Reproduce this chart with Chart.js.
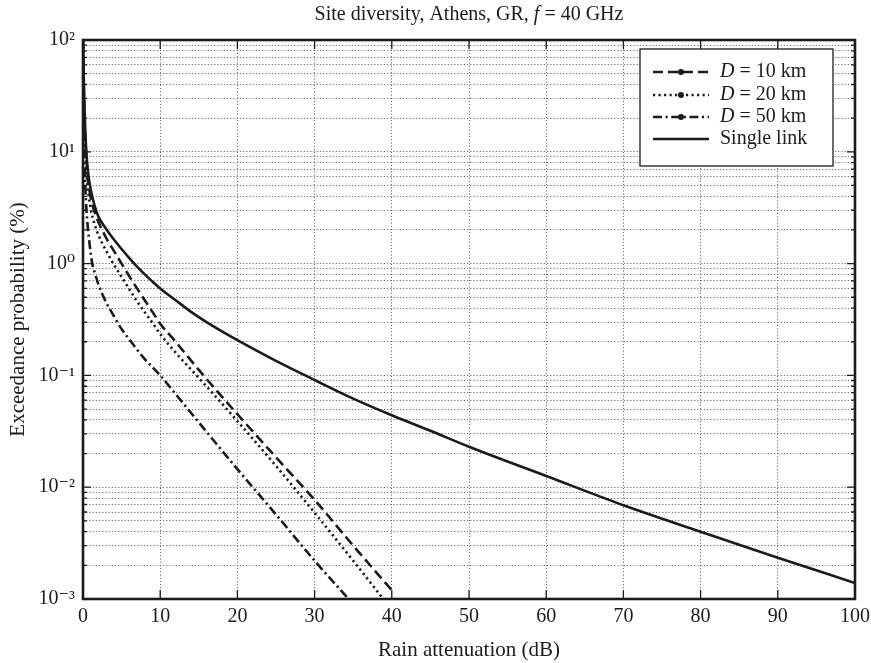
<!DOCTYPE html>
<html>
<head>
<meta charset="utf-8">
<script src="https://cdn.jsdelivr.net/npm/chart.js@4.4.1/dist/chart.umd.min.js"></script>
<style>
  html, body { margin: 0; padding: 0; background: #fff; }
  #wrap { width: 871px; height: 663px; position: relative; }
</style>
</head>
<body>
<div id="wrap"><canvas id="c"></canvas></div>
<script>
// data (x in dB, y in %)
const SINGLE_X = [0, 0.1, 0.2, 0.3, 0.5, 0.75, 1, 1.5, 2, 3, 4, 5, 6, 7, 8, 9, 10, 12, 14, 16, 18, 20, 25, 30, 35, 40, 45, 50, 60, 70, 80, 90, 100];
const SINGLE_Y = [100, 45, 24, 15, 8.5, 5.8, 4.6, 3.3, 2.63, 2.04, 1.64, 1.35, 1.12, 0.94, 0.80, 0.69, 0.60, 0.47, 0.37, 0.30, 0.248, 0.207, 0.135, 0.091, 0.062, 0.044, 0.032, 0.023, 0.0126, 0.0069, 0.0040, 0.00234, 0.00139];

const D10_X = [0, 0.1, 0.2, 0.3, 0.5, 0.75, 1, 1.5, 2, 3, 4, 5, 6, 7, 8, 9, 10, 12, 15, 20, 25, 30, 35, 40];
const D10_Y = [100, 38, 20, 13, 7.5, 5.0, 3.9, 2.9, 2.35, 1.7, 1.3, 1.0, 0.77, 0.6, 0.47, 0.37, 0.29, 0.2, 0.112, 0.045, 0.0185, 0.0077, 0.003, 0.0012];

const D20_X = [0, 0.1, 0.2, 0.3, 0.5, 0.75, 1, 1.5, 2, 3, 4, 5, 6, 7, 8, 9, 10, 12, 15, 20, 25, 30, 35, 38.9];
const D20_Y = [100, 33, 16, 10.5, 6.0, 4.0, 3.1, 2.25, 1.8, 1.3, 0.98, 0.76, 0.59, 0.46, 0.367, 0.295, 0.235, 0.16, 0.095, 0.039, 0.0155, 0.0059, 0.0022, 0.001];

const D50_X = [0, 0.1, 0.2, 0.3, 0.45, 0.6, 0.9, 1.2, 1.6, 2, 3, 4, 5, 6, 7, 8, 10, 12, 15, 20, 25, 30, 34.4];
const D50_Y = [100, 25, 9, 5, 3.0, 2.2, 1.4, 1.0, 0.8, 0.65, 0.45, 0.34, 0.26, 0.21, 0.17, 0.14, 0.1, 0.068, 0.038, 0.0145, 0.0057, 0.0022, 0.001];

const X_TICKS = [0, 10, 20, 30, 40, 50, 60, 70, 80, 90, 100];
const Y_DECADES = [-3, -2, -1, 0, 1, 2];
const Y_LABELS = ['10\u207B\u00B3', '10\u207B\u00B2', '10\u207B\u00B9', '10\u2070', '10\u00B9', '10\u00B2'];

const SERIES_NAMES = ['10', '20', '50', 'Single link'];

const INK = '#1b1b1b';
const SERIF = '"Liberation Serif", "DejaVu Serif", serif';

function pts(xs, ys) {
  return xs.map((x, i) => ({ x: x, y: ys[i] }));
}

// log ticks 1..9 x 10^k
const yTickValues = [];
Y_DECADES.forEach((e, k) => {
  const top = k === Y_DECADES.length - 1 ? 1 : 9;
  for (let m = 1; m <= top; m++) yTickValues.push(+(m * Math.pow(10, e)).toPrecision(3));
});

function yLabel(v) {
  const e = Math.round(Math.log10(v));
  if (Math.abs(v - Math.pow(10, e)) > 1e-9 * Math.pow(10, e)) return '';
  return Y_LABELS[Y_DECADES.indexOf(e)];
}

const baseLine = {
  borderColor: INK,
  backgroundColor: INK,
  borderWidth: 2.6,
  pointRadius: 0,
  fill: false,
  cubicInterpolationMode: 'monotone'
};

const datasets = [
  Object.assign({}, baseLine, { label: SERIES_NAMES[0], data: pts(D10_X, D10_Y), borderDash: [10, 5] }),
  Object.assign({}, baseLine, { label: SERIES_NAMES[1], data: pts(D20_X, D20_Y), borderDash: [2.2, 3.3] }),
  Object.assign({}, baseLine, { label: SERIES_NAMES[2], data: pts(D50_X, D50_Y), borderDash: [9, 3.5, 2.2, 3.5] }),
  Object.assign({}, baseLine, { label: SERIES_NAMES[3], data: pts(SINGLE_X, SINGLE_Y), borderDash: [] })
];

// frame, inner ticks, title, legend
const decorPlugin = {
  id: 'decor',
  afterDatasetsDraw(chart) {
    const ctx = chart.ctx;
    const a = chart.chartArea;
    const xs = chart.scales.x;
    const ys = chart.scales.y;
    ctx.save();
    ctx.strokeStyle = INK;

    // inner ticks
    ctx.lineWidth = 1.3;
    yTickValues.forEach(v => {
      const py = ys.getPixelForValue(v);
      const len = yLabel(v) ? 8 : 4;
      ctx.beginPath();
      ctx.moveTo(a.left, py); ctx.lineTo(a.left + len, py);
      ctx.moveTo(a.right, py); ctx.lineTo(a.right - len, py);
      ctx.stroke();
    });
    X_TICKS.forEach(v => {
      const px = xs.getPixelForValue(v);
      ctx.beginPath();
      ctx.moveTo(px, a.bottom); ctx.lineTo(px, a.bottom - 9);
      ctx.moveTo(px, a.top); ctx.lineTo(px, a.top + 9);
      ctx.stroke();
    });

    // frame
    ctx.lineWidth = 2.6;
    ctx.strokeRect(a.left, a.top, a.right - a.left, a.bottom - a.top);

    // title
    ctx.fillStyle = INK;
    ctx.textBaseline = 'alphabetic';
    const parts = [
      ['Site diversity, Athens, GR, ', ''],
      ['f', 'italic '],
      [' = 40 GHz', '']
    ];
    const tsize = 20;
    let tw = 0;
    parts.forEach(p => { ctx.font = p[1] + tsize + 'px ' + SERIF; tw += ctx.measureText(p[0]).width; });
    let tx = (a.left + a.right) / 2 - tw / 2;
    ctx.textAlign = 'left';
    parts.forEach(p => {
      ctx.font = p[1] + tsize + 'px ' + SERIF;
      ctx.fillText(p[0], tx, 20);
      tx += ctx.measureText(p[0]).width;
    });

    // legend box
    const bx = 640, by = 49, bw = 193, bh = 117;
    ctx.fillStyle = '#fff';
    ctx.fillRect(bx, by, bw, bh);
    ctx.lineWidth = 1.3;
    ctx.strokeRect(bx, by, bw, bh);
    const rowY = [72, 95, 117, 139];
    const lsize = 20;
    chart.data.datasets.forEach((ds, i) => {
      const y = rowY[i];
      ctx.strokeStyle = INK;
      ctx.lineWidth = 2.6;
      ctx.setLineDash(ds.borderDash || []);
      ctx.beginPath();
      ctx.moveTo(653, y); ctx.lineTo(709, y);
      ctx.stroke();
      ctx.setLineDash([]);
      if (i < 3) {
        ctx.fillStyle = INK;
        ctx.beginPath();
        ctx.arc(681, y, 3, 0, Math.PI * 2);
        ctx.fill();
      }
      ctx.fillStyle = INK;
      ctx.textBaseline = 'middle';
      let x = 720;
      if (i < 3) {
        ctx.font = 'italic ' + lsize + 'px ' + SERIF;
        ctx.fillText('D', x, y);
        x += ctx.measureText('D').width;
        ctx.font = lsize + 'px ' + SERIF;
        ctx.fillText(' = ' + ds.label + ' km', x, y);
      } else {
        ctx.font = lsize + 'px ' + SERIF;
        ctx.fillText(ds.label, x, y);
      }
    });
    ctx.restore();
  }
};

new Chart(document.getElementById('c'), {
  type: 'line',
  data: { datasets: datasets },
  plugins: [decorPlugin],
  options: {
    responsive: true,
    maintainAspectRatio: false,
    animation: false,
    layout: { padding: { left: 0, right: 16, top: 40, bottom: 0 } },
    plugins: {
      legend: { display: false },
      title: { display: false },
      tooltip: { enabled: false }
    },
    scales: {
      x: {
        type: 'linear',
        min: 0,
        max: 100,
        afterBuildTicks(s) { s.ticks = X_TICKS.map(v => ({ value: v })); },
        afterFit(s) { s.height = 64; s.paddingLeft = 0; s.paddingRight = 0; },
        grid: {
          color: '#6e6e6e',
          lineWidth: 1,
          drawTicks: false
        },
        border: { display: false, dash: [1.2, 2] },
        ticks: {
          color: INK,
          padding: 6,
          font: { family: SERIF, size: 20 },
          maxRotation: 0,
          autoSkip: false
        },
        title: {
          display: true,
          text: 'Rain attenuation (dB)',
          color: INK,
          font: { family: SERIF, size: 21 },
          padding: { top: 2, bottom: 0 }
        }
      },
      y: {
        type: 'logarithmic',
        min: 0.001,
        max: 100,
        afterBuildTicks(s) { s.ticks = yTickValues.map(v => ({ value: v, major: !!yLabel(v) })); },
        afterFit(s) { s.width = 83; },
        grid: {
          color: '#6e6e6e',
          lineWidth: 1,
          drawTicks: false
        },
        border: { display: false, dash: [1.2, 2] },
        ticks: {
          color: INK,
          padding: 8,
          font: { family: SERIF, size: 20 },
          autoSkip: false,
          callback: v => yLabel(v)
        },
        title: {
          display: true,
          text: 'Exceedance probability (%)',
          color: INK,
          font: { family: SERIF, size: 21 },
          padding: { top: 6, bottom: 2 }
        }
      }
    }
  }
});
</script>
</body>
</html>
